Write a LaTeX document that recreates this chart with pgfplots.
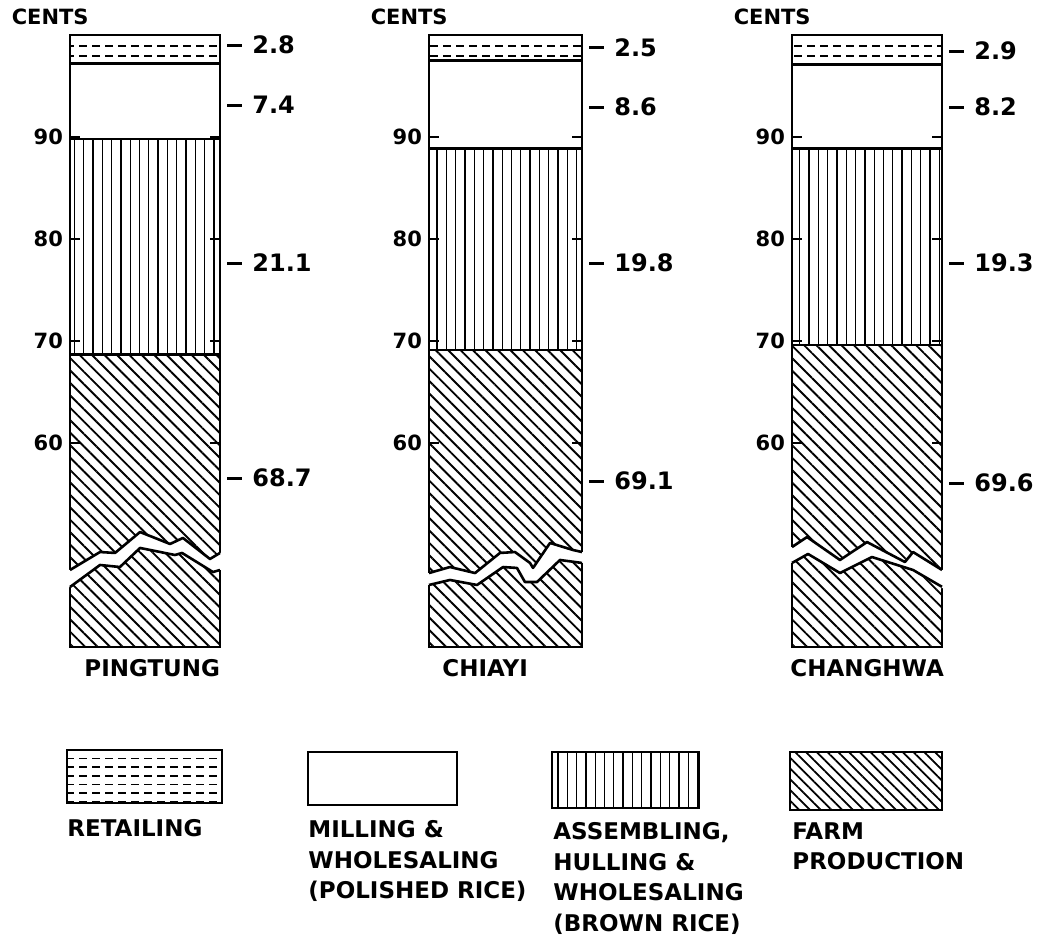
\documentclass[border=0pt]{standalone}
\usepackage{fontspec}
\setmainfont{DejaVu Sans}
\usepackage{pgfplots}
\pgfplotsset{compat=1.18}
\usetikzlibrary{patterns,patterns.meta}

\pgfdeclarepatternformonly{hdashes}{\pgfqpoint{-1pt}{-1pt}}{\pgfqpoint{7.5pt}{6pt}}{\pgfqpoint{6.5pt}{5.2pt}}{%
  \pgfsetlinewidth{0.9pt}%
  \pgfpathmoveto{\pgfqpoint{0.5pt}{2.6pt}}%
  \pgfpathlineto{\pgfqpoint{4.5pt}{2.6pt}}%
  \pgfusepath{stroke}}
\pgfdeclarepatternformonly{hdashesleg}{\pgfqpoint{-1pt}{-1pt}}{\pgfqpoint{7.5pt}{5pt}}{\pgfqpoint{6.5pt}{4.3pt}}{%
  \pgfsetlinewidth{0.8pt}%
  \pgfpathmoveto{\pgfqpoint{0.5pt}{2.15pt}}%
  \pgfpathlineto{\pgfqpoint{4.5pt}{2.15pt}}%
  \pgfusepath{stroke}}

\tikzset{
  farm/.style={pattern={Lines[angle=-45,distance=4.4pt,line width=0.95pt]}},
  farmleg/.style={pattern={Lines[angle=-45,distance=3.8pt,line width=0.9pt]}},
  assem/.style={pattern={Lines[angle=90,distance=4.65pt,line width=0.65pt]}},
  retail/.style={pattern=hdashes},
  vlab/.style={anchor=west, inner sep=0pt, xshift=3.5pt, font=\fontsize{12}{14}\selectfont\bfseries},
  cents/.style={anchor=south east, inner sep=0pt, xshift=9.5pt, yshift=5pt, font=\fontsize{10.5}{12}\selectfont\bfseries},
  bname/.style={anchor=north west, inner sep=0pt, yshift=-6pt, font=\fontsize{11.5}{13}\selectfont\bfseries},
  legt/.style={anchor=north west, inner sep=0pt, align=left, font=\fontsize{11.5}{15.3}\selectfont\bfseries},
  brk/.style={line width=1.3pt, line join=round},
}
\newcommand\vl[1]{\rule[0.3em]{7.5pt}{1.5pt}\hspace{5pt}#1}

\pgfplotsset{
  barax/.style={
    scale only axis, height=306pt,
    xmin=-0.5, xmax=0.5, ymin=40, ymax=100,
    ybar stacked, bar width=1,
    xtick=\empty, ytick={60,70,80,90},
    tick align=inside, major tick length=5pt,
    ytick pos=both, yticklabel pos=left,
    axis line style={line width=1.3pt},
    every tick/.style={line width=1.1pt, black},
    yticklabel style={font=\fontsize{10.5}{12}\selectfont\bfseries},
    /pgf/number format/assume math mode=true,
    clip mode=individual,
    axis on top=false,
    every axis plot/.append style={draw=black, line width=1.3pt},
  }
}

\begin{document}
\begin{tikzpicture}
\useasboundingbox (0pt,0pt) rectangle (528.5pt,-467.5pt);

% ---------------- PINGTUNG ----------------
\begin{axis}[barax, width=75pt, at={(35pt,-323.5pt)}, anchor=south west]
\addplot[farm] coordinates {(0,68.7)};
\addplot[assem] coordinates {(0,21.1)};
\addplot[fill=none] coordinates {(0,7.4)};
\addplot[retail] coordinates {(0,2.8)};
\node[vlab] at (axis cs:0.5,99.02) {\vl{2.8}};
\node[vlab] at (axis cs:0.5,93.14) {\vl{7.4}};
\node[vlab] at (axis cs:0.5,77.65) {\vl{21.1}};
\node[vlab] at (axis cs:0.5,56.57) {\vl{68.7}};
\node[cents] at (rel axis cs:0,1) {CENTS};
\node[bname, xshift=7pt] at (rel axis cs:0,0) {PINGTUNG};
\end{axis}
% break (same axis units: x centred, y in cents)
\begin{scope}[shift={(72.5pt,-527.5pt)}, x=75pt, y=5.1pt]
\fill[white] (-0.54,47.55) -- (-0.5,47.55) -- (-0.3,49.31) -- (-0.2,49.22) -- (-0.033,51.27) -- (0.167,50.1) -- (0.253,50.69) -- (0.433,48.63) -- (0.5,49.22) -- (0.54,49.22)
  -- (0.54,47.55) -- (0.5,47.55) -- (0.453,47.35) -- (0.247,49.22) -- (0.2,49.02) -- (-0.033,49.71) -- (-0.167,47.84) -- (-0.3,48.04) -- (-0.5,45.88) -- (-0.54,45.88) -- cycle;
\draw[brk] (-0.5,47.55) -- (-0.3,49.31) -- (-0.2,49.22) -- (-0.033,51.27) -- (0.167,50.1) -- (0.253,50.69) -- (0.433,48.63) -- (0.5,49.22);
\draw[brk] (-0.5,45.88) -- (-0.3,48.04) -- (-0.167,47.84) -- (-0.033,49.71) -- (0.2,49.02) -- (0.247,49.22) -- (0.453,47.35) -- (0.5,47.55);
\end{scope}

% ---------------- CHIAYI ----------------
\begin{axis}[barax, width=76.5pt, at={(214.5pt,-323.5pt)}, anchor=south west]
\addplot[farm] coordinates {(0,69.1)};
\addplot[assem] coordinates {(0,19.8)};
\addplot[fill=none] coordinates {(0,8.6)};
\addplot[retail] coordinates {(0,2.5)};
\node[vlab] at (axis cs:0.5,98.73) {\vl{2.5}};
\node[vlab] at (axis cs:0.5,92.94) {\vl{8.6}};
\node[vlab] at (axis cs:0.5,77.65) {\vl{19.8}};
\node[vlab] at (axis cs:0.5,56.27) {\vl{69.1}};
\node[cents] at (rel axis cs:0,1) {CENTS};
\node[bname, xshift=6.5pt] at (rel axis cs:0,0) {CHIAYI};
\end{axis}
\begin{scope}[shift={(252.75pt,-527.5pt)}, x=76.5pt, y=5.1pt]
\fill[white] (-0.54,47.25) -- (-0.5,47.25) -- (-0.363,47.84) -- (-0.199,47.25) -- (-0.036,49.22) -- (0.062,49.31) -- (0.16,48.24) -- (0.18,47.75) -- (0.291,50.2) -- (0.441,49.51) -- (0.5,49.31) -- (0.54,49.31)
  -- (0.54,48.24) -- (0.5,48.24) -- (0.356,48.53) -- (0.206,46.37) -- (0.127,46.37) -- (0.075,47.75) -- (-0.016,47.84) -- (-0.186,46.08) -- (-0.363,46.57) -- (-0.5,46.08) -- (-0.54,46.08) -- cycle;
\draw[brk] (-0.5,47.25) -- (-0.363,47.84) -- (-0.199,47.25) -- (-0.036,49.22) -- (0.062,49.31) -- (0.16,48.24) -- (0.18,47.75) -- (0.291,50.2) -- (0.441,49.51) -- (0.5,49.31);
\draw[brk] (-0.5,46.08) -- (-0.363,46.57) -- (-0.186,46.08) -- (-0.016,47.84) -- (0.075,47.75) -- (0.127,46.37) -- (0.206,46.37) -- (0.356,48.53) -- (0.5,48.24);
\end{scope}

% ---------------- CHANGHWA ----------------
\begin{axis}[barax, width=75pt, at={(396pt,-323.5pt)}, anchor=south west]
\addplot[farm] coordinates {(0,69.6)};
\addplot[assem] coordinates {(0,19.3)};
\addplot[fill=none] coordinates {(0,8.2)};
\addplot[retail] coordinates {(0,2.9)};
\node[vlab] at (axis cs:0.5,98.43) {\vl{2.9}};
\node[vlab] at (axis cs:0.5,92.94) {\vl{8.2}};
\node[vlab] at (axis cs:0.5,77.65) {\vl{19.3}};
\node[vlab] at (axis cs:0.5,56.08) {\vl{69.6}};
\node[cents] at (rel axis cs:0,1) {CENTS};
\node[bname, xshift=-1pt] at (rel axis cs:0,0) {CHANGHWA};
\end{axis}
\begin{scope}[shift={(433.5pt,-527.5pt)}, x=75pt, y=5.1pt]
\fill[white] (-0.54,49.8) -- (-0.5,49.8) -- (-0.4,50.78) -- (-0.18,48.53) -- (0.0,50.29) -- (0.253,48.33) -- (0.307,49.31) -- (0.5,47.55) -- (0.54,47.55)
  -- (0.54,45.78) -- (0.487,45.78) -- (0.307,47.55) -- (0.033,48.82) -- (-0.18,47.25) -- (-0.393,49.12) -- (-0.5,48.24) -- (-0.54,48.24) -- cycle;
\draw[brk] (-0.5,49.8) -- (-0.4,50.78) -- (-0.18,48.53) -- (0.0,50.29) -- (0.253,48.33) -- (0.307,49.31) -- (0.5,47.55);
\draw[brk] (-0.5,48.24) -- (-0.393,49.12) -- (-0.18,47.25) -- (0.033,48.82) -- (0.307,47.55) -- (0.5,45.9);
\end{scope}

% ---------------- legend ----------------
\begin{scope}[x=0.5pt,y=-0.5pt]
\draw[line width=1.3pt, pattern=hdashesleg] (67,750) rectangle (222,803);
\draw[line width=1.3pt] (308,752) rectangle (457,805);
\draw[line width=1.3pt, assem] (552,752) rectangle (699,808);
\draw[line width=1.3pt, farmleg] (790,752) rectangle (942,810);
\node[legt] at (67,819) {RETAILING};
\node[legt] at (308,820) {MILLING \&\\WHOLESALING\\(POLISHED RICE)};
\node[legt] at (553,822) {ASSEMBLING,\\HULLING \&\\WHOLESALING\\(BROWN RICE)};
\node[legt] at (792,822) {FARM\\PRODUCTION};
\end{scope}
\end{tikzpicture}
\end{document}
